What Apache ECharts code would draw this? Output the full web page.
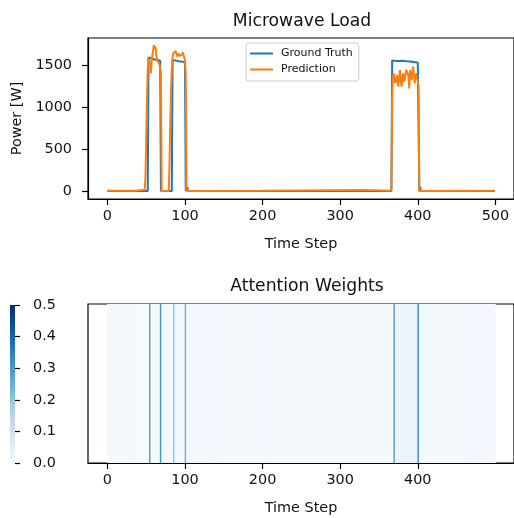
<!DOCTYPE html>
<html>
<head>
<meta charset="utf-8">
<script src="https://cdn.jsdelivr.net/npm/echarts@6/dist/echarts.min.js"></script>
<style>
  html, body { margin: 0; padding: 0; background: #fff; }
  #chart { width: 514px; height: 518px; }
</style>
</head>
<body>
<div id="chart"></div>
<script>
// Microwave power: measured load vs. model prediction, [time step, watts]
const groundTruth = [
  [0, 0], [52, 0], [53, 1590], [55, 1582], [57, 1575], [59, 1570], [61, 1565], [63, 1562],
  [65, 1560], [67, 1558], [68, 1550], [69, 0], [83, 0], [84, 1560], [86, 1555], [88, 1552],
  [90, 1548], [92, 1545], [94, 1542], [96, 1540], [98, 1535], [100, 1530], [101, 0], [102, 0],
  [103, 45], [104, 0], [366, 0], [367, 1552], [370, 1550], [375, 1548], [380, 1550],
  [385, 1545], [390, 1540], [395, 1535], [400, 1528], [401, 1525], [402, 0], [403, 50],
  [404, 0], [499, 0]
];
const prediction = [
  [0, 2], [36, 2], [37, 18], [48, 15], [49, 150], [50, 600], [51, 1100], [52, 1450],
  [53, 1580], [54, 1600], [55, 1500], [56, 1400], [57, 1550], [58, 1620], [59, 1680],
  [60, 1738], [61, 1690], [62, 1720], [63, 1620], [64, 1560], [65, 1580], [66, 1550],
  [67, 1510], [68, 1450], [69, 1400], [70, 0], [79, 0], [80, 300], [81, 800], [82, 1200],
  [83, 1450], [84, 1590], [85, 1640], [86, 1620], [87, 1650], [88, 1665], [89, 1630],
  [90, 1600], [91, 1620], [92, 1640], [93, 1610], [94, 1600], [95, 1630], [96, 1620],
  [97, 1650], [98, 1660], [99, 1630], [100, 1560], [101, 1400], [102, 0], [198, 2],
  [199, 12], [331, 12], [332, 2], [365, 2], [366, 30], [367, 1083], [368, 1350],
  [369, 1401], [370, 1421], [371, 1282], [372, 1330], [373, 1381], [374, 1300], [375, 1242],
  [376, 1350], [377, 1440], [378, 1330], [379, 1242], [380, 1320], [381, 1401], [382, 1350],
  [383, 1302], [384, 1380], [385, 1440], [386, 1460], [387, 1400], [388, 1361], [389, 1222],
  [390, 1440], [391, 1380], [392, 1321], [393, 1400], [394, 1480], [395, 1380], [396, 1282],
  [397, 1350], [398, 1401], [399, 1350], [400, 1302], [401, 1242], [402, 0], [499, 2]
];

// Attention weights as runs of time steps: [from, to) with one weight each
const attFrom   = [0,     36,    54,   55,    68,   69,    75,    85,   86,    100,  101,   110,   145,   200,   210,   240,   330,   369,  370,   400,  401,   465];
const attTo     = [36,    54,    55,   68,    69,   75,    85,    86,   100,   101,  110,   145,   200,   210,   240,   330,   369,   370,  400,   401,  465,   500];
const attWeight = [0.008, 0.004, 0.30, 0.008, 0.31, 0.014, 0.010, 0.20, 0.008, 0.25, 0.014, 0.010, 0.008, 0.013, 0.008, 0.007, 0.008, 0.30, 0.03,  0.33, 0.008, 0.014];

// Axis ticks
const powerTicks = [0, 500, 1000, 1500];
const timeTicksTop = [0, 100, 200, 300, 400, 500];
const timeTicksBottom = [0, 100, 200, 300, 400];
const weightRange = [0, 0.5];

// Sequential blue colour ramp
const blues = ['#f7fbff', '#deebf7', '#c6dbef', '#9ecae1', '#6baed6', '#4292c6', '#2171b5', '#08519c', '#08306b'];

const FONT = 'DejaVu Sans';
const TXT = '#111';
const attentionData = attFrom.map((f, i) => [f, attTo[i], attWeight[i]]);

const chart = echarts.init(document.getElementById('chart'), null, { renderer: 'canvas' });

const labelStyle = { fontFamily: FONT, fontSize: 14.4, color: TXT };
const blackLine = { onZero: false, show: true, lineStyle: { color: '#000', width: 1.2 } };
const blackTick = (vals) => ({ show: true, length: 6, lineStyle: { color: '#000', width: 1.2 }, customValues: vals });

chart.setOption({
  animation: false,
  backgroundColor: '#fff',
  title: [
    { text: 'Microwave Load', left: 297, top: 8, textAlign: 'center',
      textStyle: { fontFamily: FONT, fontSize: 17.2, fontWeight: 'normal', color: TXT } },
    { text: 'Attention Weights', left: 302, top: 273, textAlign: 'center',
      textStyle: { fontFamily: FONT, fontSize: 17.2, fontWeight: 'normal', color: TXT } }
  ],
  legend: {
    data: ['Ground Truth', 'Prediction'],
    orient: 'vertical', left: 246, top: 43,
    icon: 'rect', itemWidth: 23, itemHeight: 2, itemGap: 3,
    padding: [4, 6, 5, 4],
    backgroundColor: 'rgba(255,255,255,0.8)', borderColor: '#ccc', borderWidth: 1, borderRadius: 3,
    textStyle: { fontFamily: FONT, fontSize: 11, lineHeight: 13, color: TXT, padding: [0, 0, 0, 3] }
  },
  visualMap: {
    show: false, type: 'continuous', seriesIndex: 2, dimension: 2,
    min: weightRange[0], max: weightRange[1], inRange: { color: blues }
  },
  grid: [
    { left: 88, top: 38, width: 428, height: 161, show: true, borderColor: '#000', borderWidth: 1.2, backgroundColor: 'transparent' },
    { left: 88, top: 304, width: 428, height: 159, show: true, borderColor: '#000', borderWidth: 1.2, backgroundColor: 'transparent' },
    { left: 10, top: 305, width: 5, height: 158 }
  ],
  xAxis: [
    { gridIndex: 0, type: 'value', min: -25, max: 524,
      axisLine: blackLine, axisTick: blackTick(timeTicksTop),
      axisLabel: { ...labelStyle, margin: 10, customValues: timeTicksTop },
      splitLine: { show: false },
      name: 'Time Step', nameLocation: 'middle', nameGap: 38, nameTextStyle: labelStyle },
    { gridIndex: 1, type: 'value', min: -25, max: 524,
      axisLine: blackLine, axisTick: blackTick(timeTicksBottom),
      axisLabel: { ...labelStyle, margin: 10, customValues: timeTicksBottom },
      splitLine: { show: false },
      name: 'Time Step', nameLocation: 'middle', nameGap: 38, nameTextStyle: labelStyle },
    { gridIndex: 2, type: 'value', min: 0, max: 1, show: false }
  ],
  yAxis: [
    { gridIndex: 0, type: 'value', min: -95, max: 1821,
      axisLine: blackLine, axisTick: blackTick(powerTicks),
      axisLabel: { ...labelStyle, margin: 16, customValues: powerTicks, formatter: v => String(v) },
      splitLine: { show: false },
      name: 'Power [W]', nameLocation: 'middle', nameGap: 60, nameTextStyle: labelStyle },
    { gridIndex: 1, type: 'value', min: 0, max: 1, show: false },
    { gridIndex: 2, type: 'value', min: weightRange[0], max: weightRange[1], interval: 0.1, position: 'right',
      axisLine: { onZero: false, show: true, lineStyle: { color: 'rgba(0,0,0,0)', width: 1 } },
      axisTick: { show: true, length: 5, lineStyle: { color: '#000', width: 1.2 } },
      axisLabel: { ...labelStyle, margin: 18, formatter: v => v.toFixed(1) },
      splitLine: { show: false } }
  ],
  series: [
    { name: 'Ground Truth', type: 'line', xAxisIndex: 0, yAxisIndex: 0, data: groundTruth,
      showSymbol: false, lineStyle: { color: '#1f77b4', width: 2 }, itemStyle: { color: '#1f77b4' }, z: 3 },
    { name: 'Prediction', type: 'line', xAxisIndex: 0, yAxisIndex: 0, data: prediction,
      showSymbol: false, lineStyle: { color: '#ff7f0e', width: 2 }, itemStyle: { color: '#ff7f0e' }, z: 4 },
    { name: 'Attention', type: 'custom', xAxisIndex: 1, yAxisIndex: 1, data: attentionData,
      encode: { x: [0, 1] }, clip: true, z: 1,
      renderItem: (params, api) => {
        const p0 = api.coord([api.value(0), 1]);
        const p1 = api.coord([api.value(1), 0]);
        let x = p0[0], w = p1[0] - p0[0];
        const narrow = api.value(1) - api.value(0) <= 1;
        if (narrow && w < 1.4) { x -= (1.4 - w) / 2; w = 1.4; }
        const color = api.visual('color');
        return {
          type: 'rect', z2: narrow ? 10 : 1,
          shape: { x, y: p0[1], width: w, height: p1[1] - p0[1] },
          style: { fill: color, stroke: narrow ? null : color, lineWidth: narrow ? 0 : 0.6 }
        };
      } },
    { name: 'Colorbar', type: 'custom', xAxisIndex: 2, yAxisIndex: 2, data: [[0, 1, weightRange[0], weightRange[1]]],
      silent: true, z: 1,
      renderItem: (params, api) => {
        const p0 = api.coord([api.value(0), api.value(3)]);
        const p1 = api.coord([api.value(1), api.value(2)]);
        const stops = blues.map((c, i) => ({ offset: i / (blues.length - 1), color: c }));
        return {
          type: 'rect',
          shape: { x: p0[0], y: p0[1], width: p1[0] - p0[0], height: p1[1] - p0[1] },
          style: { fill: new echarts.graphic.LinearGradient(0, 1, 0, 0, stops) }
        };
      } }
  ]
});
</script>
</body>
</html>
